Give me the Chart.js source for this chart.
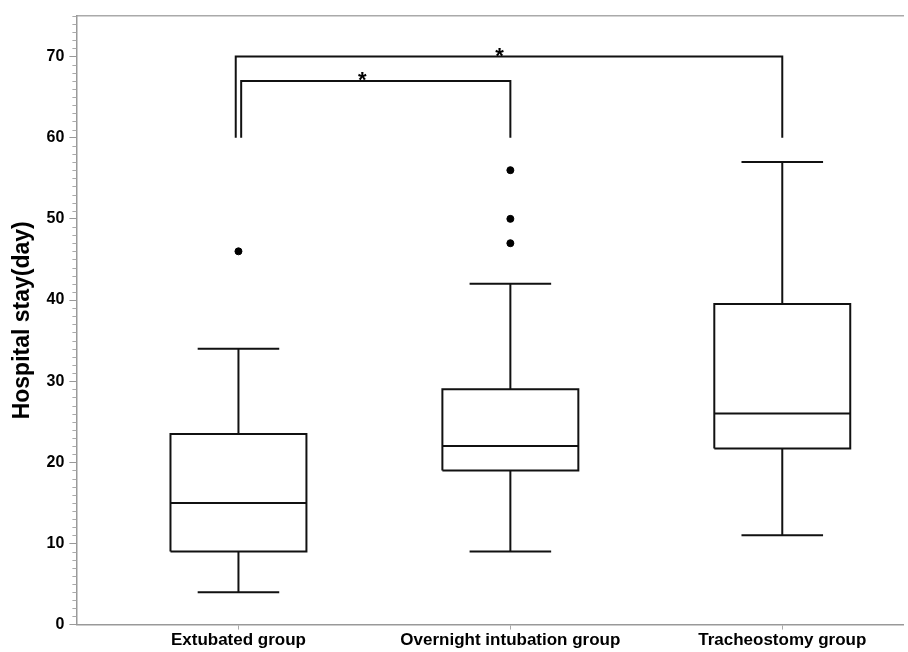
<!DOCTYPE html>
<html>
<head>
<script src="https://cdn.jsdelivr.net/npm/chart.js@4"></script>
<style>
  html, body { margin: 0; background: #fff; overflow: hidden; }
  #wrap { width: 908px; height: 652px; overflow: hidden; }
</style>
</head>
<body>
<div id="wrap"><canvas id="box"></canvas></div>
<script>
  // box plot values (days)
  const groups = ['Extubated group', 'Overnight intubation group', 'Tracheostomy group'];
  const whiskerLow = [4, 9, 11];
  const q1 = [9, 19, 21.7];
  const median = [15, 22, 26];
  const q3 = [23.5, 29, 39.5];
  const whiskerHigh = [34, 42, 57];
  const outliers = [[46], [47, 50, 56], []];

  // significance brackets
  const bracketFrom = [0.99, 1.01];
  const bracketTo = [3, 2];
  const bracketTop = [70, 67];
  const bracketBottom = [60, 60];
  const starX = [1.96, 1.455];
  const starLabel = ['*', '*'];

  const boxHalf = 0.25;
  const capHalf = 0.15;
  const FONT = '"Liberation Sans", Arial, sans-serif';

  function gap() { return {x: null, y: null}; }

  const datasets = [];
  groups.forEach((g, i) => {
    const x = i + 1;
    const pts = [
      {x: x - boxHalf, y: q1[i]}, {x: x + boxHalf, y: q1[i]},
      {x: x + boxHalf, y: q3[i]}, {x: x - boxHalf, y: q3[i]},
      {x: x - boxHalf, y: q1[i]}, gap(),
      {x: x - boxHalf, y: median[i]}, {x: x + boxHalf, y: median[i]}, gap(),
      {x: x, y: q3[i]}, {x: x, y: whiskerHigh[i]}, gap(),
      {x: x - capHalf, y: whiskerHigh[i]}, {x: x + capHalf, y: whiskerHigh[i]}, gap(),
      {x: x, y: q1[i]}, {x: x, y: whiskerLow[i]}, gap(),
      {x: x - capHalf, y: whiskerLow[i]}, {x: x + capHalf, y: whiskerLow[i]}
    ];
    datasets.push({
      type: 'line', data: pts, borderColor: '#111', borderWidth: 2,
      pointRadius: 0, spanGaps: false, fill: false, tension: 0
    });
    datasets.push({
      type: 'scatter',
      data: outliers[i].map(v => ({x: x, y: v})),
      backgroundColor: '#000', borderColor: '#000', pointRadius: 3.5
    });
  });

  bracketFrom.forEach((f, i) => {
    datasets.push({
      type: 'line',
      data: [
        {x: f, y: bracketBottom[i]}, {x: f, y: bracketTop[i]},
        {x: bracketTo[i], y: bracketTop[i]}, {x: bracketTo[i], y: bracketBottom[i]}
      ],
      borderColor: '#111', borderWidth: 2, pointRadius: 0, fill: false, tension: 0
    });
  });

  // stars and minor ticks
  const extras = {
    id: 'extras',
    afterDatasetsDraw(chart) {
      const {ctx, scales: {x, y}} = chart;
      ctx.save();
      ctx.fillStyle = '#000';
      ctx.font = 'bold 22px ' + FONT;
      ctx.textAlign = 'center';
      ctx.textBaseline = 'alphabetic';
      const m = ctx.measureText('*');
      starX.forEach((sx, i) => {
        const lineY = y.getPixelForValue(bracketTop[i]);
        ctx.fillText(starLabel[i], x.getPixelForValue(sx), lineY - m.actualBoundingBoxDescent);
      });
      ctx.strokeStyle = '#aaa';
      ctx.lineWidth = 1;
      const left = chart.chartArea.left;
      for (let v = 1; v <= 75; v++) {
        if (v % 10 === 0) continue;
        const py = Math.round(y.getPixelForValue(v)) + 0.5;
        ctx.beginPath();
        ctx.moveTo(left - 4, py);
        ctx.lineTo(left, py);
        ctx.stroke();
      }
      ctx.restore();
    }
  };

  new Chart(document.getElementById('box'), {
    type: 'scatter',
    data: {datasets},
    options: {
      responsive: true,
      maintainAspectRatio: false,
      animation: false,
      layout: {padding: {top: 8, right: 0, left: 9, bottom: 0}},
      plugins: {legend: {display: false}, tooltip: {enabled: false}},
      scales: {
        x: {
          type: 'linear', min: 0.404, max: 3.444,
          afterBuildTicks(scale) { scale.ticks = groups.map((g, i) => ({value: i + 1})); },
          ticks: {
            callback: v => groups[v - 1] || '',
            color: '#000',
            font: {family: FONT, size: 17, weight: 'bold'},
            maxRotation: 0, autoSkip: false, padding: 1
          },
          grid: {drawOnChartArea: false, tickLength: 5, tickColor: '#aaa'},
          border: {color: '#999', width: 1.5}
        },
        x2: {
          type: 'linear', position: 'top', min: 0.404, max: 3.444,
          ticks: {display: false},
          grid: {display: false},
          border: {color: '#aaa', width: 1.5}
        },
        y: {
          min: 0, max: 75,
          afterBuildTicks(scale) { scale.ticks = [0, 10, 20, 30, 40, 50, 60, 70].map(v => ({value: v})); },
          ticks: {
            color: '#000',
            font: {family: FONT, size: 16, weight: 'bold'},
            padding: 5
          },
          grid: {drawOnChartArea: false, tickLength: 7, tickColor: '#999'},
          border: {color: '#999', width: 1.5},
          title: {
            display: true, text: 'Hospital stay(day)', color: '#000',
            font: {family: FONT, size: 23, weight: 'bold'},
            padding: {top: 0, bottom: 5}
          }
        }
      }
    },
    plugins: [extras]
  });
</script>
</body>
</html>
